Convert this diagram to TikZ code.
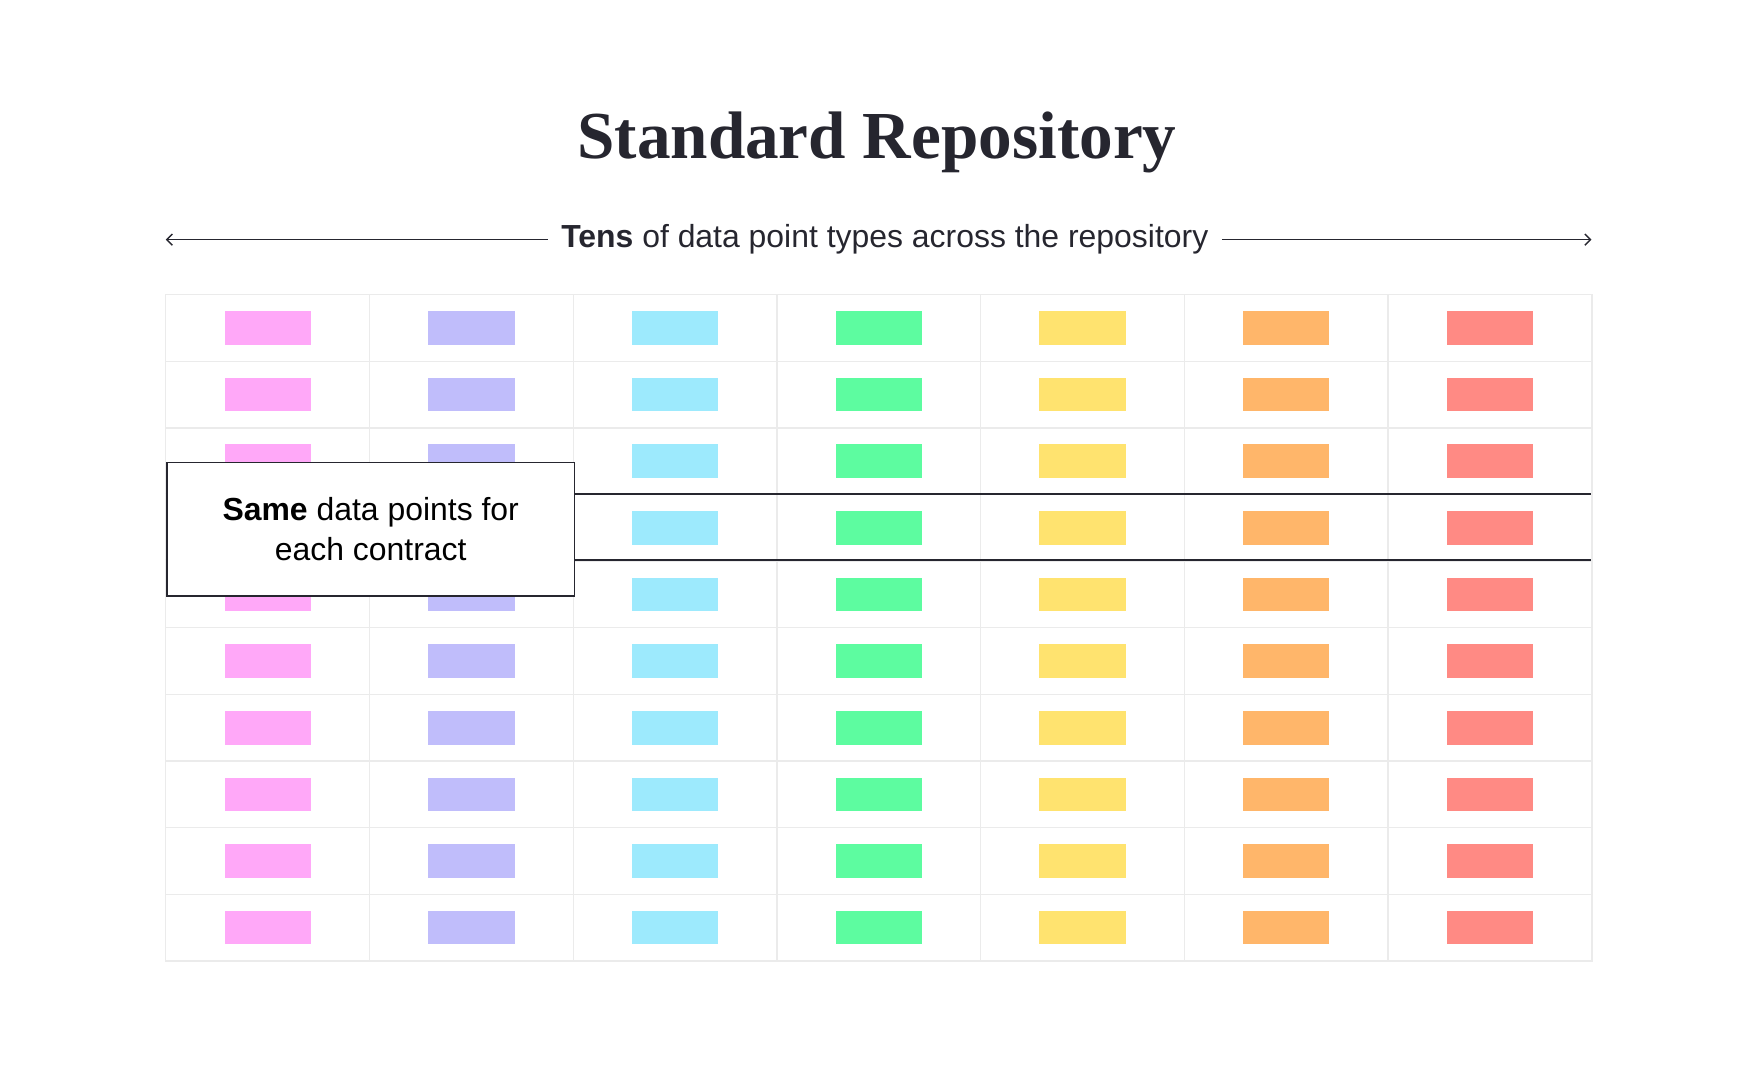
\documentclass[tikz,border=0pt]{standalone}
\usepackage{fontspec}
\setmainfont{Liberation Sans}
\newfontfamily\titlefont{Liberation Serif}
\usetikzlibrary{positioning,arrows.meta}
\definecolor{ink}{HTML}{26262F}
\definecolor{gridgray}{HTML}{EBEBEB}
\definecolor{cpink}{HTML}{FFA8F8}
\definecolor{clav}{HTML}{C0BDFB}
\definecolor{ccyan}{HTML}{9DEAFD}
\definecolor{cgreen}{HTML}{5DFCA0}
\definecolor{cyellow}{HTML}{FFE36F}
\definecolor{corange}{HTML}{FFB66A}
\definecolor{cred}{HTML}{FF8A84}
\begin{document}
\begin{tikzpicture}[
	x=1pt,y=-1pt,
	chip/.style={minimum width=77pt,minimum height=30pt,inner sep=0pt},
	cell/.style={draw=gridgray,line width=1.2pt,minimum width=181.9pt,minimum height=59.5pt,inner sep=0pt},
	linie/.style={draw=ink,line width=1.3pt}
	]
\useasboundingbox (0,0) rectangle (1567,959);

\node[font=\titlefont\bfseries\fontsize{60}{68}\selectfont,text=ink] (title) at (783,127) {Standard Repository};
\node[font=\fontsize{28.5}{32}\selectfont,text=ink,inner xsep=12pt] (span) at (790,214) {\textbf{Tens} of data point types across the repository};
\coordinate (lend) at (148,214);
\coordinate (rend) at (1421,214);
\draw[linie,->,>={Straight Barb[length=5pt]}] (span.west) -- (lend);
\draw[linie,->,>={Straight Barb[length=5pt]}] (span.east) -- (rend);

% grid of data points
\foreach \c/\col in {0/cpink,1/clav,2/ccyan,3/cgreen,4/cyellow,5/corange,6/cred} {
  \foreach \r in {0,...,9} {
    \node[cell] (cell-\r-\c) at ({239+181.9*\c},{292.75+59.5*\r}) {};
    \node[chip,fill=\col] (chip-\r-\c) at (cell-\r-\c) {};
  }
}

% highlighted row
\coordinate (rowtop) at (1421,441);
\coordinate (rowbot) at (1421,500);
\draw[linie] (148,441) -- ++(4,0);
\draw[linie] (148,500) -- ++(4,0);
\node[draw=ink,line width=1.3pt,fill=white,minimum width=364pt,minimum height=119pt,align=center,
  font=\fontsize{28.5}{36}\selectfont,text=black] (note) at (331,472.5) {\textbf{Same} data points for\\each contract};
\draw[linie] (note.east |- rowtop) -- (rowtop);
\draw[linie] (note.east |- rowbot) -- (rowbot);

\end{tikzpicture}
\end{document}
